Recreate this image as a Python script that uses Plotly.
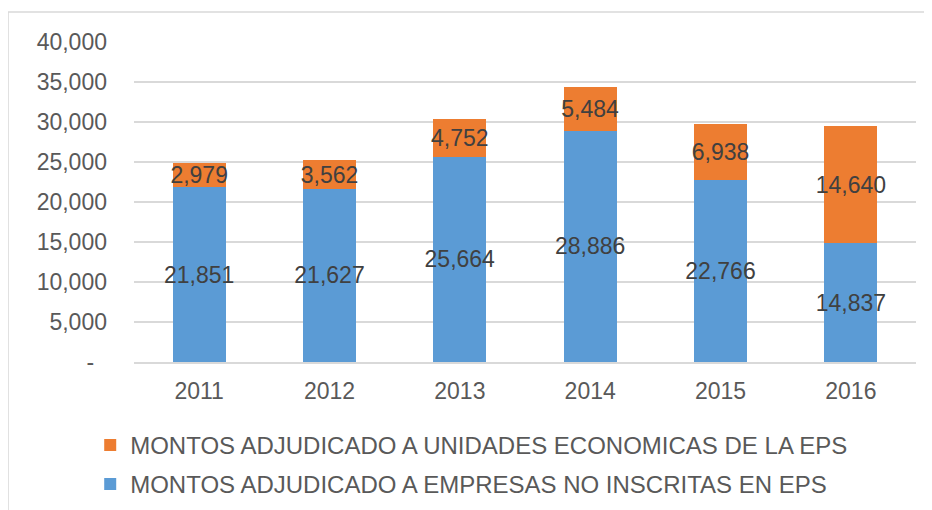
import plotly.graph_objects as go

years = ["2011", "2012", "2013", "2014", "2015", "2016"]
no_inscritas = [21851, 21627, 25664, 28886, 22766, 14837]
unidades_eps = [2979, 3562, 4752, 5484, 6938, 14640]
y_tickvals = [0, 5000, 10000, 15000, 20000, 25000, 30000, 35000, 40000]
y_ticktext = ["-\u00a0\u00a0", "5,000", "10,000", "15,000", "20,000", "25,000", "30,000", "35,000", "40,000"]

name_blue = "MONTOS ADJUDICADO A EMPRESAS NO INSCRITAS EN EPS"
name_orange = "MONTOS ADJUDICADO A UNIDADES ECONOMICAS DE LA EPS"

FONT = "Liberation Sans, Arial, sans-serif"

fig = go.Figure()
fig.add_trace(go.Bar(
    x=years, y=no_inscritas, name=name_blue, legendgroup="b", legendrank=2,
    marker=dict(color="#5B9BD5", line=dict(width=0)),
    text=[f"{v:,}" for v in no_inscritas], textposition="inside",
    insidetextanchor="middle", textangle=0, constraintext="none",
    textfont=dict(family=FONT, size=23, color="#404040"),
))
fig.add_trace(go.Bar(
    x=years, y=unidades_eps, name=name_orange, legendgroup="a", legendrank=1,
    marker=dict(color="#ED7D31", line=dict(width=0)),
    text=[f"{v:,}" for v in unidades_eps], textposition="inside",
    insidetextanchor="middle", textangle=0, constraintext="none",
    textfont=dict(family=FONT, size=23, color="#404040"),
))

fig.update_layout(
    width=932, height=510,
    margin=dict(l=126, r=24, t=34, b=156, autoexpand=False),
    paper_bgcolor="white", plot_bgcolor="white",
    barmode="stack", bargap=0.593,
    font=dict(family=FONT, size=24, color="#595959"),
    showlegend=True,
    legend=dict(
        orientation="v", traceorder="grouped",
        x=-0.056, xanchor="left", y=-0.19, yanchor="top",
        font=dict(family=FONT, size=24, color="#595959"),
        tracegroupgap=5, bgcolor="rgba(0,0,0,0)",
    ),
    xaxis=dict(
        type="category", showgrid=False, showline=True,
        linecolor="#D9D9D9", linewidth=1.5, ticks="",
        tickfont=dict(family=FONT, size=23, color="#595959"),
        ticklabelstandoff=8,
    ),
    yaxis=dict(
        range=[0, 40000], tickvals=y_tickvals, ticktext=y_ticktext,
        showgrid=True, gridcolor="#D9D9D9", gridwidth=1.5,
        zeroline=False, showline=False, ticks="",
        tickfont=dict(family=FONT, size=23, color="#595959"),
        ticklabelstandoff=26,
    ),
    shapes=[dict(
        type="rect", xref="paper", yref="paper",
        x0=-0.1611, x1=1.06, y0=-0.6, y1=1.094,
        line=dict(color="#D9D9D9", width=1.5), fillcolor="rgba(0,0,0,0)",
        layer="below",
    )],
)

fig.write_html("out.html", config={"displayModeBar": False})
